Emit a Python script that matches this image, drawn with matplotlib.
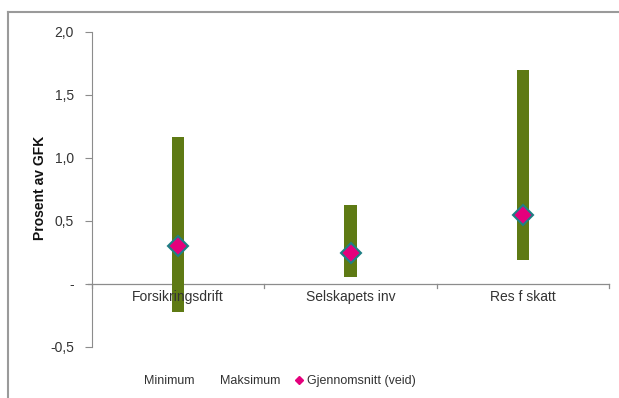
import matplotlib
matplotlib.use("Agg")
import matplotlib.pyplot as plt
from matplotlib.lines import Line2D
import numpy as np

plt.rcParams['font.family'] = ['Liberation Sans', 'DejaVu Sans']

categories = ["Forsikringsdrift", "Selskapets inv", "Res f skatt"]
minimum = [-0.22, 0.055, 0.19]
maksimum = [1.165, 0.63, 1.70]
gjennomsnitt = [0.30, 0.245, 0.545]
yticks = [-0.5, 0.0, 0.5, 1.0, 1.5, 2.0]
yticklabels = ["-0,5", "-", "0,5", "1,0", "1,5", "2,0"]

bar_color = "#5e7a14"
axis_color = "#8c8c8c"
text_color = "#333333"

fig = plt.figure(figsize=(6.19, 3.98), dpi=100)
ax = fig.add_axes([92 / 619, 51 / 398, (609 - 92) / 619, 315 / 398])

x = np.arange(len(categories))
heights = [hi - lo for lo, hi in zip(minimum, maksimum)]
ax.bar(x, heights, bottom=minimum, width=0.07, color=bar_color, zorder=2)
ax.plot(x, gjennomsnitt, ls='none', marker='D', markersize=10,
        markerfacecolor="#e4007c", markeredgecolor="#1f7f85",
        markeredgewidth=1.5, zorder=3)

ax.set_xlim(-0.5, 2.5)
ax.set_ylim(-0.5, 2.0)
ax.set_yticks(yticks)
ax.set_yticklabels(yticklabels)
ax.tick_params(axis='y', colors=axis_color, labelcolor=text_color,
               labelsize=10, length=5, width=0.8, pad=8)

# category axis at zero with ticks on boundaries
ax.set_xticks([])
ax.plot([-0.525, 2.5], [0, 0], color=axis_color, lw=0.9, zorder=1,
        clip_on=False)
for b in [-0.5, 0.5, 1.5, 2.5]:
    ax.plot([b, b], [0, -0.035], color=axis_color, lw=0.9, clip_on=False)
for xi, name in zip(x, categories):
    ax.text(xi, -0.05, name, ha='center', va='top', fontsize=10,
            color=text_color)

for s in ['top', 'right', 'bottom']:
    ax.spines[s].set_visible(False)
ax.spines['left'].set_color(axis_color)
ax.spines['left'].set_linewidth(0.8)

fig.text(40 / 619, 1 - 188 / 398, "Prosent av GFK", rotation=90,
         ha='center', va='center', fontsize=10, fontweight='bold',
         color='#111111')

handles = [Line2D([], [], ls='none'),
           Line2D([], [], ls='none'),
           Line2D([], [], ls='none', marker='D', markersize=4,
                  markerfacecolor="#e4007c", markeredgecolor="#e4007c")]
fig.legend(handles, ["Minimum", "Maksimum", "Gjennomsnitt (veid)"],
           loc='center', bbox_to_anchor=(274 / 619, 1 - 381 / 398),
           ncol=3, frameon=False, fontsize=9, handlelength=0.6,
           handletextpad=0.3, columnspacing=1.2, labelcolor=text_color)

# outer frame edges
fig.add_artist(Line2D([8 / 619, 8 / 619], [0, 1 - 12 / 398],
                      transform=fig.transFigure, color="#9a9a9a", lw=1.5))
fig.add_artist(Line2D([8 / 619, 1], [1 - 12 / 398, 1 - 12 / 398],
                      transform=fig.transFigure, color="#9a9a9a", lw=1.5))

fig.savefig("out.png", dpi=100)
